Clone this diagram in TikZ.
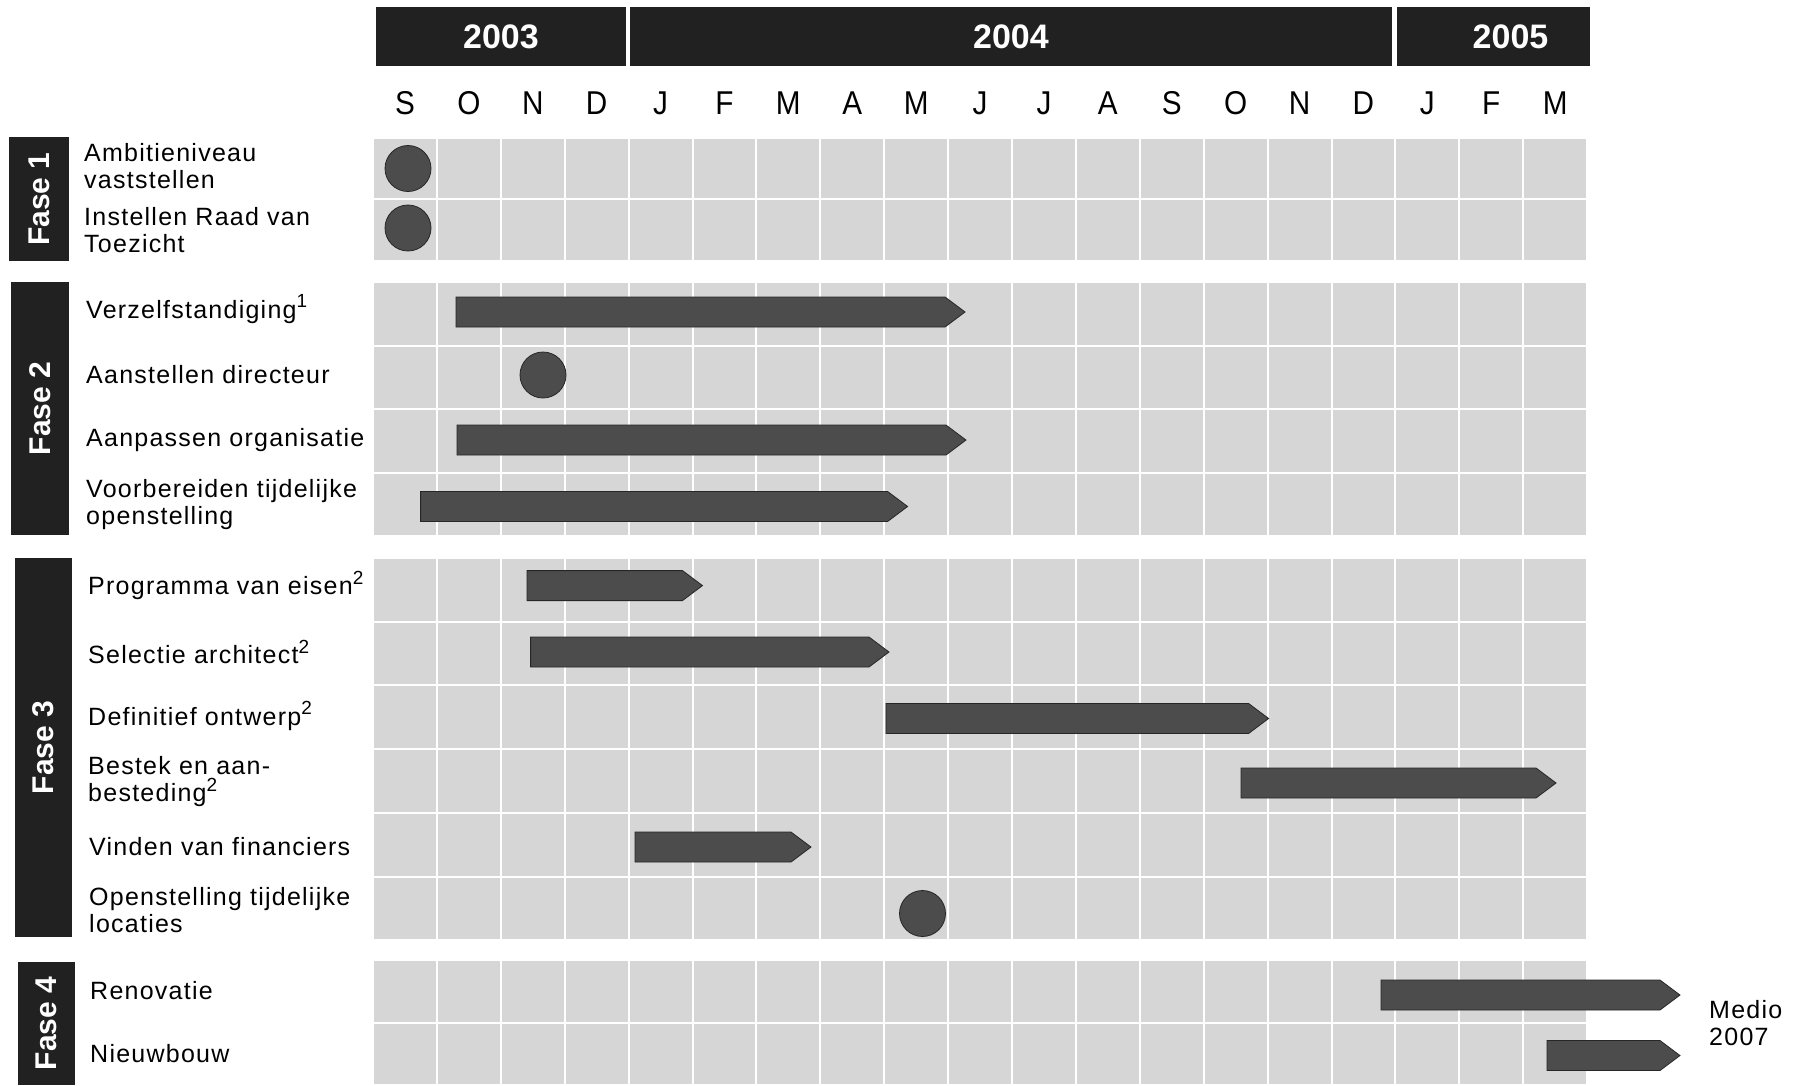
\documentclass[tikz,border=0pt]{standalone}
\usepackage{fontspec}
\setmainfont{Liberation Sans}
\newfontfamily\monthfont[FakeStretch=0.9]{Liberation Sans}
\newfontfamily\taskfont[LetterSpace=5]{Liberation Sans}
\definecolor{cellgray}{gray}{0.84}
\definecolor{bargray}{gray}{0.30}
\definecolor{boxblack}{gray}{0.13}
\tikzset{
  cellfill/.style={fill=cellgray},
  barstyle/.style={fill=bargray,draw=black!85,line width=0.8pt},
  dotstyle/.style={circle,fill=bargray,draw=black!85,line width=0.8pt,minimum size=46pt,inner sep=0pt},
  yearbox/.style={fill=boxblack,text=white,font=\fontsize{34}{36}\selectfont\bfseries,inner sep=0pt,minimum height=59pt},
  monthlbl/.style={font=\monthfont\fontsize{33}{35}\selectfont,inner sep=0pt},
  fasebox/.style={fill=boxblack,text=white,font=\fontsize{30}{32}\selectfont\bfseries,rotate=90,inner sep=0pt},
  tasklbl/.style={anchor=west,align=left,inner sep=0pt,font=\taskfont\fontsize{25}{27}\selectfont},
}
\newcommand\ganttbar[4]{%
  \fill[barstyle] (#2,#4-15) -- (#3-20,#4-15) -- (#3,#4) -- (#3-20,#4+15) -- (#2,#4+15) -- cycle;
  \coordinate (#1) at (#2,#4);}
\newcommand\supnum[1]{\raisebox{0.42em}{\fontsize{19}{19}\selectfont #1}}
\begin{document}
\begin{tikzpicture}[x=1pt,y=-1pt]
\useasboundingbox (0,0) rectangle (1797,1085);
\fill[white] (0,0) rectangle (1797,1085);
% grid
\foreach \top/\n/\h in {137.5/2/61.75, 282/4/63.5, 558/6/63.7, 960/2/62.5}{
  \foreach \r in {1,...,\n}{
    \foreach \c in {0,...,18}{
      \fill[cellfill] ({373+63.9*\c+1}, {\top+(\r-1)*\h+1}) rectangle ({373+63.9*(\c+1)-1}, {\top+\r*\h-1});
    }}}
% years
\node[yearbox,minimum width=250pt] (y2003) at (501,36.5) {2003};
\node[yearbox,minimum width=762pt] (y2004) at (1011,36.5) {2004};
\node[yearbox,minimum width=193pt] (y2005) at (1493.5,36.5) {\hspace{34pt}2005};
% months
\foreach \m [count=\i from 0] in {S,O,N,D,J,F,M,A,M,J,J,A,S,O,N,D,J,F,M}{
  \node[monthlbl] (m\i) at ({373+63.9*(\i+0.5)},103) {\m};
}
% phases
\node[fasebox,minimum width=123.5pt,minimum height=60pt] (f1) at (39,199) {Fase 1};
\node[fasebox,minimum width=253pt,minimum height=58pt] (f2) at (40,408.5) {Fase 2};
\node[fasebox,minimum width=379pt,minimum height=57pt] (f3) at (43.5,747.5) {Fase 3};
\node[fasebox,minimum width=123pt,minimum height=57pt] (f4) at (46,1023.5) {Fase 4};
% labels
\node[tasklbl] (t1) at (84,166) {Ambitieniveau\\vaststellen};
\node[tasklbl] (t2) at (84,230) {Instellen Raad van\\Toezicht};
\node[tasklbl] (t3) at (86,309) {Verzelfstandiging\supnum{1}};
\node[tasklbl] (t4) at (86,375) {Aanstellen directeur};
\node[tasklbl] (t5) at (86,440) {Aanpassen organisatie};
\node[tasklbl] (t6) at (86,505) {Voorbereiden tijdelijke\\openstelling};
\node[tasklbl] (t7) at (88,585.6) {Programma van eisen\supnum{2}};
\node[tasklbl] (t8) at (88,652) {Selectie architect\supnum{2}};
\node[tasklbl] (t9) at (88,716) {Definitief ontwerp\supnum{2}};
\node[tasklbl] (t10) at (88,781.6) {Bestek en aan-\\besteding\supnum{2}};
\node[tasklbl] (t11) at (89,847) {Vinden van financiers};
\node[tasklbl] (t12) at (89,910) {Openstelling tijdelijke\\locaties};
\node[tasklbl] (t13) at (90,991) {Renovatie};
\node[tasklbl] (t14) at (90,1054) {Nieuwbouw};
\node[tasklbl] (medio) at (1709,1023) {Medio\\2007};
% bars
\ganttbar{b3}{456}{965}{312}
\ganttbar{b5}{457}{966}{440}
\ganttbar{b6}{420.6}{907.6}{506.5}
\ganttbar{b7}{527}{702.5}{585.6}
\ganttbar{b8}{530.6}{889}{652}
\ganttbar{b9}{886}{1268.6}{718.5}
\ganttbar{b10}{1241}{1556}{783}
\ganttbar{b11}{635}{811}{847}
\ganttbar{b13}{1381}{1680}{995}
\ganttbar{b14}{1547}{1680}{1055.5}
% milestones
\node[dotstyle] (d1) at (408,168.5) {};
\node[dotstyle] (d2) at (408,228) {};
\node[dotstyle] (d4) at (543,375) {};
\node[dotstyle] (d12) at (922.5,913.5) {};
\end{tikzpicture}
\end{document}
